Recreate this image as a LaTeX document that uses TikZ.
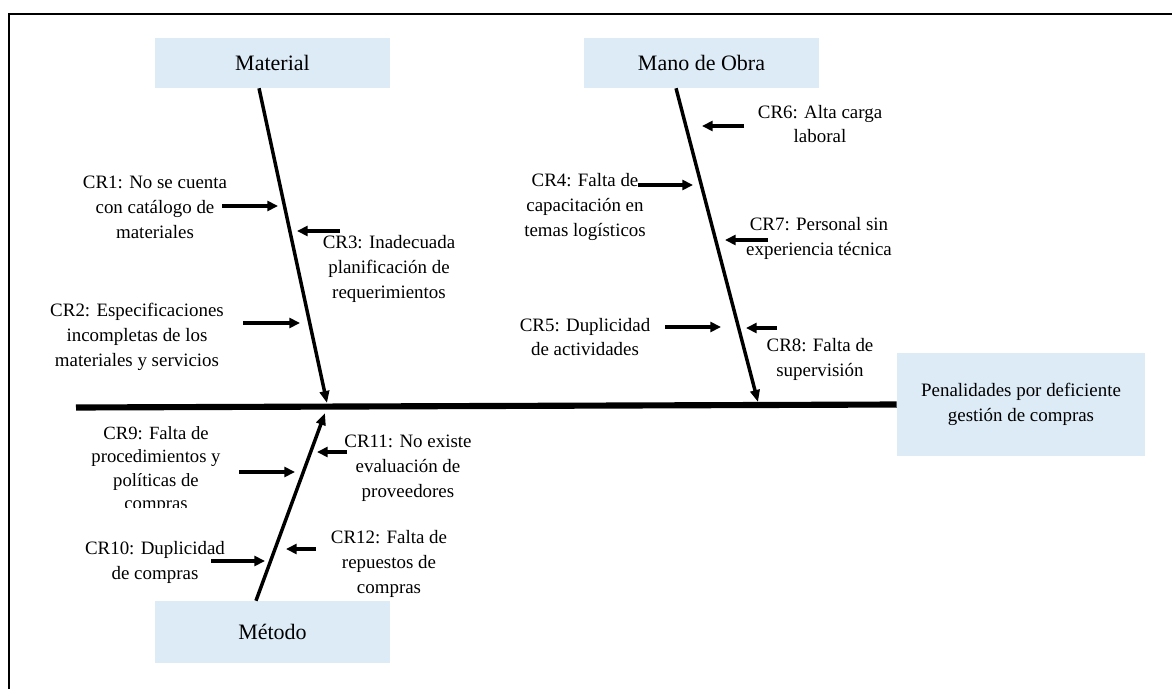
\documentclass[tikz,border=0pt]{standalone}
\usepackage{fontspec}
\setmainfont{Liberation Serif}
\usetikzlibrary{arrows.meta}
\definecolor{cajaazul}{RGB}{221,235,247}

\begin{document}
\begin{tikzpicture}[x=0.75pt,y=-0.75pt,
  every node/.style={font=\fontsize{14.2}{18.7}\selectfont,align=center,inner sep=0pt},
  categoria/.style={fill=cajaazul,minimum width=176.25pt,minimum height=37.5pt,font=\fontsize{16.5}{20}\selectfont},
  espina/.style={line width=2.6pt,-{Triangle[length=9pt,width=7pt]}},
  causa/.style={line width=2.8pt,-{Triangle[length=8pt,width=7.5pt]}}]
\useasboundingbox (0,0) rectangle (1172,689);
\draw[line width=1.6pt] (9,689) -- (9,14) -- (1172,14);

% cabezas de espina y efecto
\node[categoria] (material) at (272.5,63) {Material};
\node[categoria] (manoobra) at (701.5,63) {Mano de Obra};
\node[categoria,minimum height=46.5pt] (metodo) at (272.5,632) {Método};
\node[fill=cajaazul,minimum width=186pt,minimum height=77.25pt] (efecto) at (1021,404.5)
  {Penalidades por deficiente\\gestión de compras};

\coordinate (cola) at (76,407.5);
\draw[line width=4.6pt] (cola) -- (efecto.west);

\coordinate (pmat) at (327,403);
\coordinate (pmano) at (758,402);
\coordinate (pmet) at (325,413);
\draw[espina] ([xshift=-10.1pt]material.south) -- (pmat);
\draw[espina] ([xshift=-19.1pt]manoobra.south) -- (pmano);
\draw[espina] ([xshift=-12.4pt]metodo.north) -- (pmet);

% Material
\node (cr1) at (155,207) {CR1: No se cuenta\\con catálogo de\\materiales};
\node (cr2) at (137,337) {CR2: Especificaciones\\incompletas de los\\materiales y servicios};
\node (cr3) at (389,269) {CR3: Inadecuada\\planificación de\\requerimientos};
\coordinate (cr1a) at (222,206); \coordinate (cr1b) at (278,206);
\coordinate (cr2a) at (243,323); \coordinate (cr2b) at (300,323);
\coordinate (cr3a) at (340,231); \coordinate (cr3b) at (297,231);
\draw[causa] (cr1a) -- (cr1b);
\draw[causa] (cr2a) -- (cr2b);
\draw[causa] (cr3a) -- (cr3b);

% Mano de Obra
\node (cr4) at (585,207) {CR4: Falta de\\capacitación en\\temas logísticos};
\node (cr5) at (585,337) {CR5: Duplicidad\\de actividades};
\node (cr6) at (820,124) {CR6: Alta carga\\laboral};
\node (cr7) at (819,238) {CR7: Personal sin\\experiencia técnica};
\node (cr8) at (820,359) {CR8: Falta de\\supervisión};
\coordinate (cr4a) at (638,185); \coordinate (cr4b) at (693,185);
\coordinate (cr5a) at (665,327); \coordinate (cr5b) at (721,327);
\coordinate (cr6a) at (744,126); \coordinate (cr6b) at (702,126);
\coordinate (cr7a) at (768,240); \coordinate (cr7b) at (725,240);
\coordinate (cr8a) at (777,328); \coordinate (cr8b) at (746,328);
\draw[causa] (cr4a) -- (cr4b);
\draw[causa] (cr5a) -- (cr5b);
\draw[causa] (cr6a) -- (cr6b);
\draw[causa] (cr7a) -- (cr7b);
\draw[causa] (cr8a) -- (cr8b);

% Método
\begin{scope}
\clip (40,420) rectangle (265,507);
\node[font=\fontsize{14}{17.3}\selectfont] (cr9) at (156,470) {CR9: Falta de\\procedimientos y\\políticas de\\compras};
\end{scope}
\node (cr10) at (155,562) {CR10: Duplicidad\\de compras};
\node (cr11) at (408,468) {CR11: No existe\\evaluación de\\proveedores};
\node (cr12) at (389,564) {CR12: Falta de\\repuestos de\\compras};
\coordinate (cr9a) at (239,472); \coordinate (cr9b) at (295,472);
\coordinate (cr10a) at (211,561); \coordinate (cr10b) at (265,561);
\coordinate (cr11a) at (347,452); \coordinate (cr11b) at (317,452);
\coordinate (cr12a) at (316,549); \coordinate (cr12b) at (286,549);
\draw[causa] (cr9a) -- (cr9b);
\draw[causa] (cr10a) -- (cr10b);
\draw[causa] (cr11a) -- (cr11b);
\draw[causa] (cr12a) -- (cr12b);
\end{tikzpicture}
\end{document}
